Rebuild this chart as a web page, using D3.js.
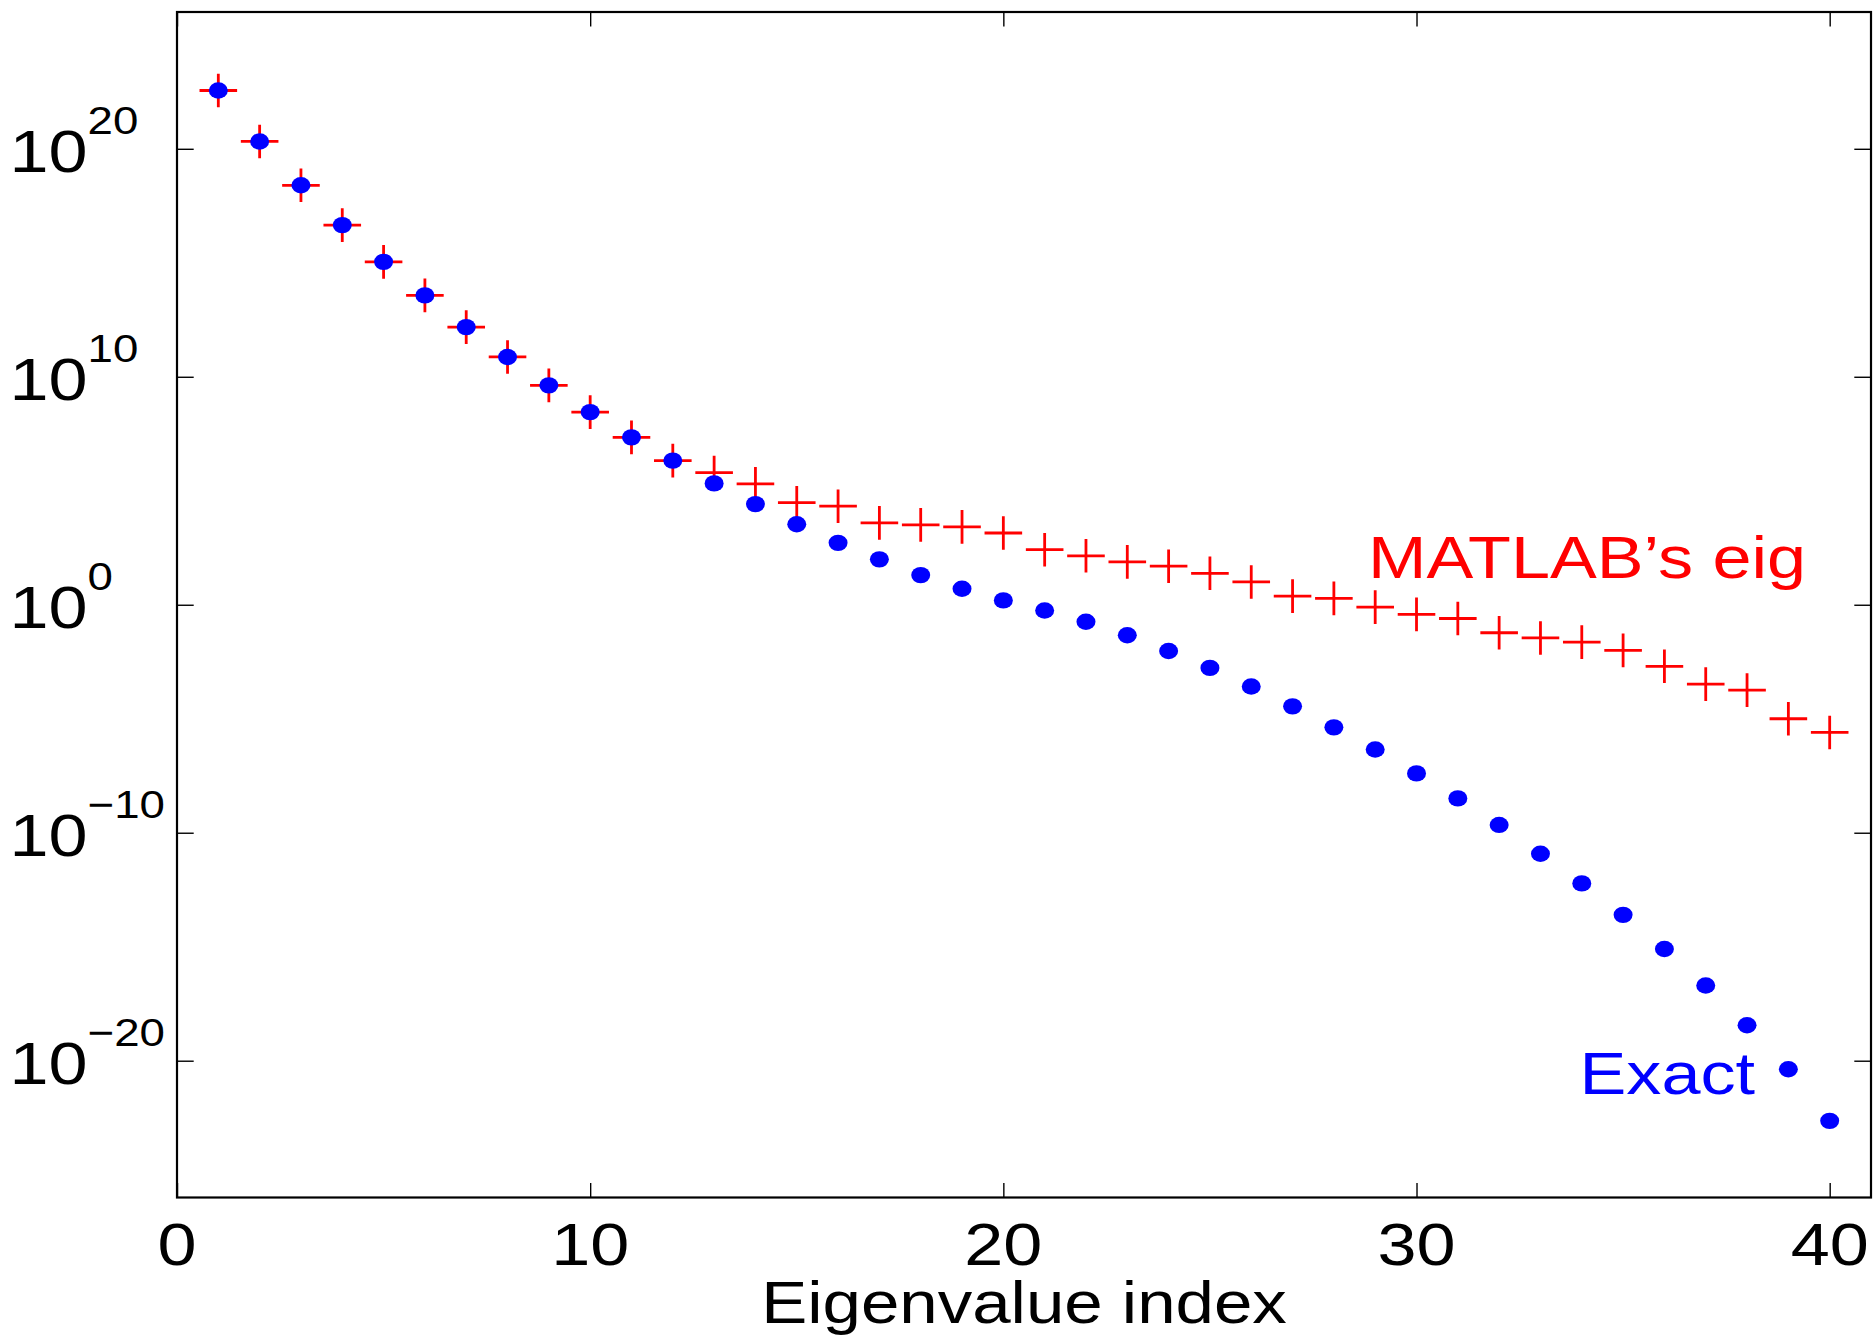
<!DOCTYPE html>
<html>
<head>
<meta charset="utf-8">
<script src="https://cdn.jsdelivr.net/npm/d3@7"></script>
<style>
  body { margin: 0; background: #fff; }
  svg text { font-family: "Liberation Sans", Arial, Helvetica, sans-serif; }
</style>
</head>
<body>
<div id="chart"></div>
<script>
// eigenvalue index (x) and magnitudes
const eigIndex = [1, 2, 3, 4, 5, 6, 7, 8, 9, 10,
  11, 12, 13, 14, 15, 16, 17, 18, 19, 20,
  21, 22, 23, 24, 25, 26, 27, 28, 29, 30,
  31, 32, 33, 34, 35, 36, 37, 38, 39, 40];

const exactVals = [3.6e22, 2.1e20, 2.5e18, 4.5e16, 1.1e15, 3.7e13, 1.5e12, 7.4e10, 4.2e9, 2.8e8,
  2.2e7, 2.1e6, 2.1e5, 2.6e4, 3.4e3, 5.2e2, 98, 20, 5.0, 1.55,
  0.56, 0.18, 0.046, 9.3e-3, 1.7e-3, 2.6e-4, 3.5e-5, 4.2e-6, 4.5e-7, 4.0e-8,
  3.2e-9, 2.2e-10, 1.2e-11, 6.0e-13, 2.5e-14, 7.9e-16, 2.0e-17, 3.6e-19, 4.2e-21, 2.3e-23];

const matlabVals = [3.6e22, 2.1e20, 2.5e18, 4.5e16, 1.1e15, 3.7e13, 1.5e12, 7.4e10, 4.2e9, 2.8e8,
  2.2e7, 2.1e6, 6.3e5, 2.0e5, 3.0e4, 2.1e4, 3.9e3, 3.2e3, 2.6e3, 1.4e3,
  2.6e2, 1.4e2, 76, 49, 24, 10, 2.4, 1.9, 0.79, 0.38,
  0.25, 0.059, 0.035, 0.023, 0.010, 2.0e-3, 3.3e-4, 1.8e-4, 1.0e-5, 2.5e-6];

const xTicks = [0, 10, 20, 30, 40];
const yTickExps = [20, 10, 0, -10, -20];

const fullW = 1874, fullH = 1335;
const box = { left: 177, right: 1871, top: 12, bottom: 1197.5 };
const sx = 1.17;   // the original figure is stretched sideways

const svg = d3.select('#chart')
    .append('svg')
    .attr('width', fullW)
    .attr('height', fullH);

const x = d3.scaleLinear().domain([0, 41]).range([box.left, box.right]);
const y = d3.scaleLog().domain([1e-26, 1e26]).range([box.bottom, box.top]);

// ticks only, pointing inward, on all four sides
const tickStyle = g => {
  g.select('.domain').remove();
  g.selectAll('line').attr('stroke', '#000').attr('stroke-width', 1.4);
  g.selectAll('text').remove();
};

svg.append('g')
    .attr('transform', `translate(0,${box.bottom})`)
    .call(d3.axisBottom(x).tickValues(xTicks).tickSize(-14.5).tickFormat(''))
    .call(tickStyle);

svg.append('g')
    .attr('transform', `translate(0,${box.top})`)
    .call(d3.axisTop(x).tickValues(xTicks).tickSize(-14.5).tickFormat(''))
    .call(tickStyle);

svg.append('g')
    .attr('transform', `translate(${box.left},0)`)
    .call(d3.axisLeft(y).tickValues(yTickExps.map(e => Math.pow(10, e))).tickSize(-16.7).tickFormat(''))
    .call(tickStyle);

svg.append('g')
    .attr('transform', `translate(${box.right},0)`)
    .call(d3.axisRight(y).tickValues(yTickExps.map(e => Math.pow(10, e))).tickSize(-16.7).tickFormat(''))
    .call(tickStyle);

svg.append('rect')
    .attr('x', box.left)
    .attr('y', box.top)
    .attr('width', box.right - box.left)
    .attr('height', box.bottom - box.top)
    .attr('fill', 'none')
    .attr('stroke', '#000')
    .attr('stroke-width', 2.2);

// tick labels
svg.append('g')
  .selectAll('text')
  .data(xTicks)
  .join('text')
    .attr('transform', d => `translate(${x(d)},1265) scale(${sx},1)`)
    .attr('text-anchor', 'middle')
    .attr('font-size', 60)
    .text(d => d);

const yLabels = svg.append('g')
  .selectAll('text')
  .data(yTickExps)
  .join('text')
    .attr('transform', d => `translate(9.5,${y(Math.pow(10, d)) + 23.3}) scale(${sx},1)`)
    .attr('font-size', 60);
yLabels.append('tspan').text('10');
yLabels.append('tspan')
    .attr('dy', -37.8)
    .attr('font-size', 39)
    .text(d => d < 0 ? '\u2212' + (-d) : String(d));

svg.append('text')
    .attr('transform', `translate(${(box.left + box.right) / 2},1322.7) scale(${sx},1)`)
    .attr('text-anchor', 'middle')
    .attr('font-size', 59)
    .text('Eigenvalue index');

// MATLAB's eig: red plus markers
const crossW = 37.6, crossH = 33.6;
svg.append('g')
  .selectAll('path')
  .data(eigIndex)
  .join('path')
    .attr('transform', (d, i) => `translate(${x(d)},${y(matlabVals[i])})`)
    .attr('d', `M${-crossW / 2},0H${crossW / 2}M0,${-crossH / 2}V${crossH / 2}`)
    .attr('fill', 'none')
    .attr('stroke', '#ff0000')
    .attr('stroke-width', 2.8);

// exact eigenvalues: blue dots
svg.append('g')
  .selectAll('ellipse')
  .data(eigIndex)
  .join('ellipse')
    .attr('cx', d => x(d))
    .attr('cy', (d, i) => y(exactVals[i]))
    .attr('rx', 9.5)
    .attr('ry', 8.2)
    .attr('fill', '#0000ff');

svg.append('text')
    .attr('transform', `translate(1368,578.3) scale(${sx},1)`)
    .attr('font-size', 60)
    .attr('fill', '#ff0000')
    .text('MATLAB\u2019s eig');

svg.append('text')
    .attr('transform', `translate(1579.5,1094.3) scale(${sx},1)`)
    .attr('font-size', 60)
    .attr('fill', '#0000ff')
    .text('Exact');
</script>
</body>
</html>
